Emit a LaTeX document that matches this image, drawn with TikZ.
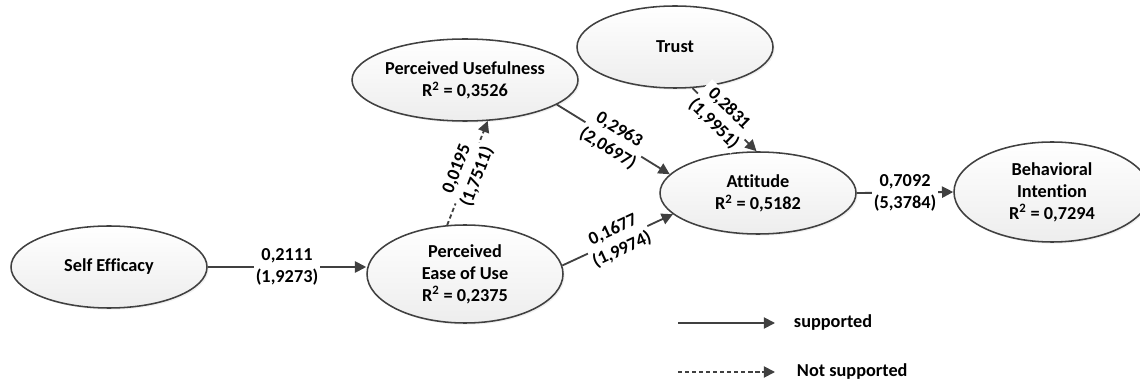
\documentclass[tikz,border=0pt]{standalone}
\usepackage{xcolor}
\usepackage{fontspec}
\setmainfont{Carlito}[Ligatures=NoCommon]
\usetikzlibrary{arrows.meta,shapes.geometric,shadows}

\definecolor{linegray}{HTML}{404040}

\tikzset{
  construct/.style={ellipse, draw=linegray, line width=1.1pt, minimum width=4.9cm, minimum height=2.05cm,
    top color=white, bottom color=gray!14, drop shadow={opacity=0.12, shadow xshift=1.2pt, shadow yshift=-1.2pt},
    font=\bfseries\fontsize{13}{15.6}\selectfont, align=center, inner sep=0pt},
  effect/.style={draw=linegray, line width=1.3pt, -{Triangle[length=8pt,width=8pt]}},
  weakeffect/.style={effect, dash pattern=on 3pt off 2pt},
  coef/.style={fill=white, inner sep=1pt, align=center, font=\bfseries\fontsize{13}{15.6}\selectfont}
}

\begin{document}
\begin{tikzpicture}
\clip (0,0) rectangle (28.5,9.525);

\node[construct] (se) at (2.725,2.85) {Self Efficacy};
\node[construct, minimum height=2.45cm] (peou) at (11.625,2.675) {Perceived\\Ease of Use\\R\textsuperscript{2} = 0,2375};
\node[construct] (pu) at (11.625,7.525) {Perceived Usefulness\\R\textsuperscript{2} = 0,3526};
\node[construct] (trust) at (16.875,8.35) {Trust};
\node[construct] (att) at (18.95,4.7) {Attitude\\R\textsuperscript{2} = 0,5182};
\node[construct, minimum height=2.5cm] (bi) at (26.3,4.725) {Behavioral\\Intention\\R\textsuperscript{2} = 0,7294};

\draw[effect] (se.east) -- (se.east -| peou.west) node[coef, midway] {0,2111\\(1,9273)};
\draw[weakeffect] (peou.110) -- (pu.-61) node[coef, midway, sloped] {0,0195\\(1,7511)};
\draw[effect] (pu.-15) -- (att.168) node[coef, midway, sloped] {0,2963\\(2,0697)};
\draw[effect] (trust.-67) -- (att.92) node[coef, pos=0.45, sloped] {0,2831\\(1,9951)};
\draw[effect] (peou.5) -- (att.194) node[coef, midway, sloped] {0,1677\\(1,9974)};
\draw[effect] (att.east) -- (bi.west) node[coef, midway] {0,7092\\(5,3784)};

\coordinate (sup1) at (16.95,1.45);
\coordinate (sup2) at (19.375,1.45);
\draw[effect] (sup1) -- (sup2);
\node[anchor=west, font=\bfseries\fontsize{13}{15.6}\selectfont] (suptext) at (19.725,1.45) {supported};

\coordinate (nsup1) at (16.95,0.225);
\coordinate (nsup2) at (19.375,0.225);
\draw[weakeffect] (nsup1) -- (nsup2);
\node[anchor=west, font=\bfseries\fontsize{13}{15.6}\selectfont] (nsuptext) at (19.8,0.225) {Not supported};
\end{tikzpicture}
\end{document}
